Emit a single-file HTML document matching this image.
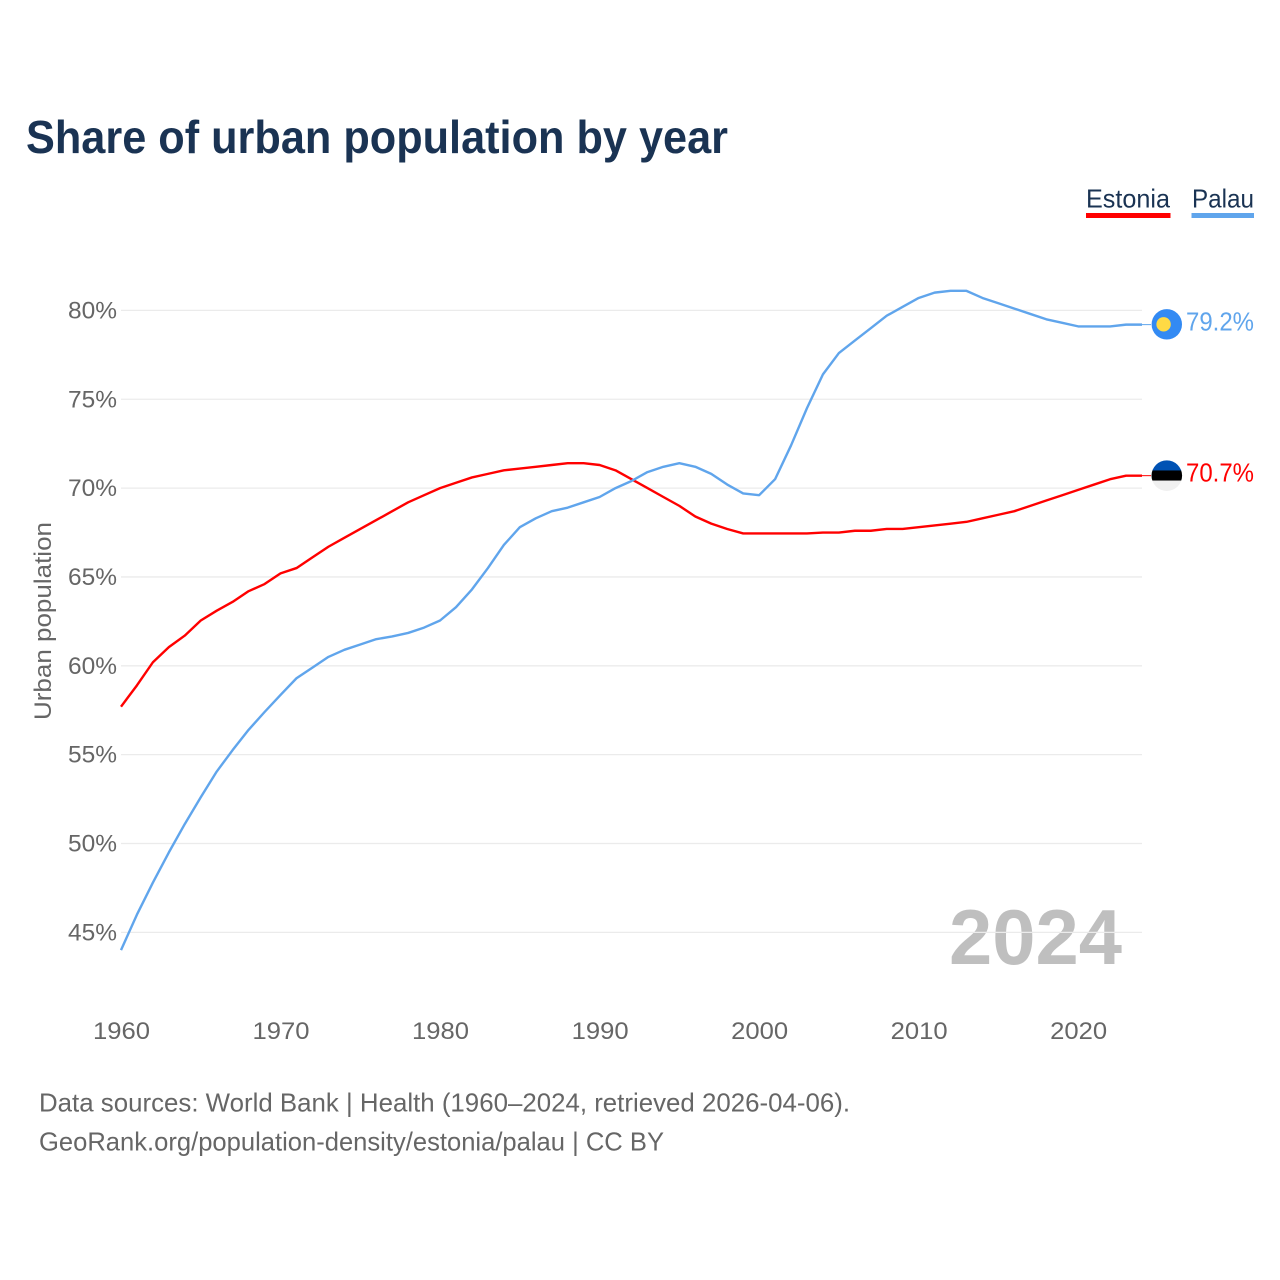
<!DOCTYPE html>
<html lang="en">
<head>
<meta charset="utf-8">
<title>Share of urban population by year</title>
<style>
html,body{margin:0;padding:0;background:#fff;}
svg{display:block;font-family:"Liberation Sans",sans-serif;}
</style>
</head>
<body>
<svg id="chart" xmlns="http://www.w3.org/2000/svg" width="1280" height="1280" viewBox="0 0 1280 1280">
  <rect x="0" y="0" width="1280" height="1280" fill="#ffffff"/>
  <text x="26" y="153" font-size="46" font-weight="700" fill="#1a3353" textLength="702" lengthAdjust="spacingAndGlyphs">Share of urban population by year</text>

  <g>
    <g>
      <text x="1086" y="207.5" font-size="26" fill="#1a3353" textLength="84" lengthAdjust="spacingAndGlyphs">Estonia</text>
      <rect x="1086" y="213" width="84.5" height="5" fill="#ff0000"/>
    </g>
    <g>
      <text x="1192" y="207.5" font-size="26" fill="#1a3353" textLength="62" lengthAdjust="spacingAndGlyphs">Palau</text>
      <rect x="1191.5" y="213" width="62.5" height="5" fill="#60a5ec"/>
    </g>
  </g>

  <text x="949" y="964" font-size="78" font-weight="700" fill="#000000" fill-opacity="0.25" textLength="173" lengthAdjust="spacingAndGlyphs">2024</text>
  <g id="grid"></g>
  <g id="y-ticks"></g>
  <g id="x-ticks"></g>
  <text transform="translate(51,720) rotate(-90)" x="0" y="0" font-size="24" fill="#666666" textLength="198" lengthAdjust="spacingAndGlyphs">Urban population</text>
  <g id="series"></g>
  <g id="ends"></g>

  <text x="39" y="1111.5" font-size="26" fill="#666666" textLength="811" lengthAdjust="spacingAndGlyphs">Data sources: World Bank | Health (1960–2024, retrieved 2026-04-06).</text>
  <text x="39" y="1150.5" font-size="26" fill="#666666" textLength="625" lengthAdjust="spacingAndGlyphs">GeoRank.org/population-density/estonia/palau | CC BY</text>
</svg>
<script>
const startYear = 1960;
const xTickLabels = [1960, 1970, 1980, 1990, 2000, 2010, 2020];
const yTickLabels = [45, 50, 55, 60, 65, 70, 75, 80];
const estoniaValues = [57.7,58.9,60.2,61.05,61.7,62.55,63.1,63.6,64.2,64.6,65.2,65.5,66.1,66.7,67.2,67.7,68.2,68.7,69.2,69.6,70.0,70.3,70.6,70.8,71.0,71.1,71.2,71.3,71.4,71.4,71.3,71.0,70.5,70.0,69.5,69.0,68.4,68.0,67.7,67.45,67.45,67.45,67.45,67.45,67.5,67.5,67.6,67.6,67.7,67.7,67.8,67.9,68.0,68.1,68.3,68.5,68.7,69.0,69.3,69.6,69.9,70.2,70.5,70.7,70.7];
const palauValues = [44.0,46.0,47.8,49.5,51.1,52.6,54.05,55.26,56.4,57.4,58.36,59.3,59.9,60.5,60.9,61.2,61.5,61.65,61.85,62.15,62.55,63.3,64.3,65.5,66.8,67.8,68.3,68.7,68.9,69.2,69.5,70.0,70.4,70.9,71.2,71.4,71.2,70.8,70.2,69.7,69.6,70.5,72.4,74.5,76.4,77.6,78.3,79.0,79.7,80.2,80.7,81.0,81.1,81.1,80.7,80.4,80.1,79.8,79.5,79.3,79.1,79.1,79.1,79.2,79.2];

const NS = 'http://www.w3.org/2000/svg';
const xAxis = function (year) { return 121 + (year - 1960) * 15.953; };
const yAxis = function (value) { return 310.4 + (80 - value) * 17.77; };
const make = function (tag, attrs, parent) {
  const el = document.createElementNS(NS, tag);
  Object.keys(attrs).forEach(function (k) { el.setAttribute(k, attrs[k]); });
  parent.appendChild(el);
  return el;
};

const gridGroup = document.getElementById('grid');
const yGroup = document.getElementById('y-ticks');
yTickLabels.forEach(function (v) {
  const line = make('line', {x1: 121, x2: 1142, y1: yAxis(v), y2: yAxis(v), stroke: '#ebebeb', 'stroke-width': 1.3}, gridGroup);
  
  
  const label = make('text', {x: 117, y: yAxis(v) + 8, 'font-size': 24, fill: '#666666', 'text-anchor': 'end', textLength: 49, lengthAdjust: 'spacingAndGlyphs'}, yGroup);
  label.textContent = v + '%';
  
  
});

const xGroup = document.getElementById('x-ticks');
xTickLabels.forEach(function (y) {
  const label = make('text', {x: xAxis(y) + 0.5, y: 1039, 'font-size': 24, fill: '#666666', 'text-anchor': 'middle', textLength: 57, lengthAdjust: 'spacingAndGlyphs'}, xGroup);
  label.textContent = y;
  
  
});

const toPoints = function (values) {
  return values.map(function (v, i) { return xAxis(startYear + i).toFixed(2) + ',' + yAxis(v).toFixed(2); }).join(' ');
};
const seriesGroup = document.getElementById('series');
const estoniaLine = make('polyline', {points: toPoints(estoniaValues), fill: 'none', stroke: '#ff0000', 'stroke-width': 2.4, 'stroke-linejoin': 'round'}, seriesGroup);


const palauLine = make('polyline', {points: toPoints(palauValues), fill: 'none', stroke: '#60a5ec', 'stroke-width': 2.4, 'stroke-linejoin': 'round'}, seriesGroup);



const ends = document.getElementById('ends');
const lastIndex = palauValues.length - 1;
const lastX = xAxis(startYear + lastIndex);

// Palau end marker
const py = yAxis(palauValues[lastIndex]);
const pConn = make('line', {x1: lastX, x2: 1151, y1: py, y2: py, stroke: '#60a5ec', 'stroke-width': 1}, ends);


const pFlag = make('g', {}, ends);


make('circle', {cx: 1166.8, cy: py - 0.3, r: 15.2, fill: '#338af3'}, pFlag);
make('circle', {cx: 1163.6, cy: py - 0.3, r: 7.2, fill: '#ffda44'}, pFlag);
const pLabel = make('text', {x: 1186, y: py + 6, 'font-size': 26, fill: '#60a5ec', textLength: 68, lengthAdjust: 'spacingAndGlyphs'}, ends);
pLabel.textContent = palauValues[lastIndex].toFixed(1) + '%';



// Estonia end marker
const ey = yAxis(estoniaValues[lastIndex]);
const eConn = make('line', {x1: lastX, x2: 1151, y1: ey, y2: ey, stroke: '#ff0000', 'stroke-width': 1}, ends);


const clip = make('clipPath', {id: 'estonia-clip'}, ends);
make('circle', {cx: 1166.8, cy: ey, r: 15.3}, clip);
const eFlag = make('g', {'clip-path': 'url(#estonia-clip)'}, ends);


make('rect', {x: 1150, y: ey - 16, width: 34, height: 11, fill: '#0052b4'}, eFlag);
make('rect', {x: 1150, y: ey - 5.2, width: 34, height: 10.2, fill: '#000000'}, eFlag);
make('rect', {x: 1150, y: ey + 5, width: 34, height: 12, fill: '#f0f0f0'}, eFlag);
const eLabel = make('text', {x: 1186, y: ey + 6, 'font-size': 26, fill: '#ff0000', textLength: 68, lengthAdjust: 'spacingAndGlyphs'}, ends);
eLabel.textContent = estoniaValues[lastIndex].toFixed(1) + '%';


</script>
</body>
</html>
